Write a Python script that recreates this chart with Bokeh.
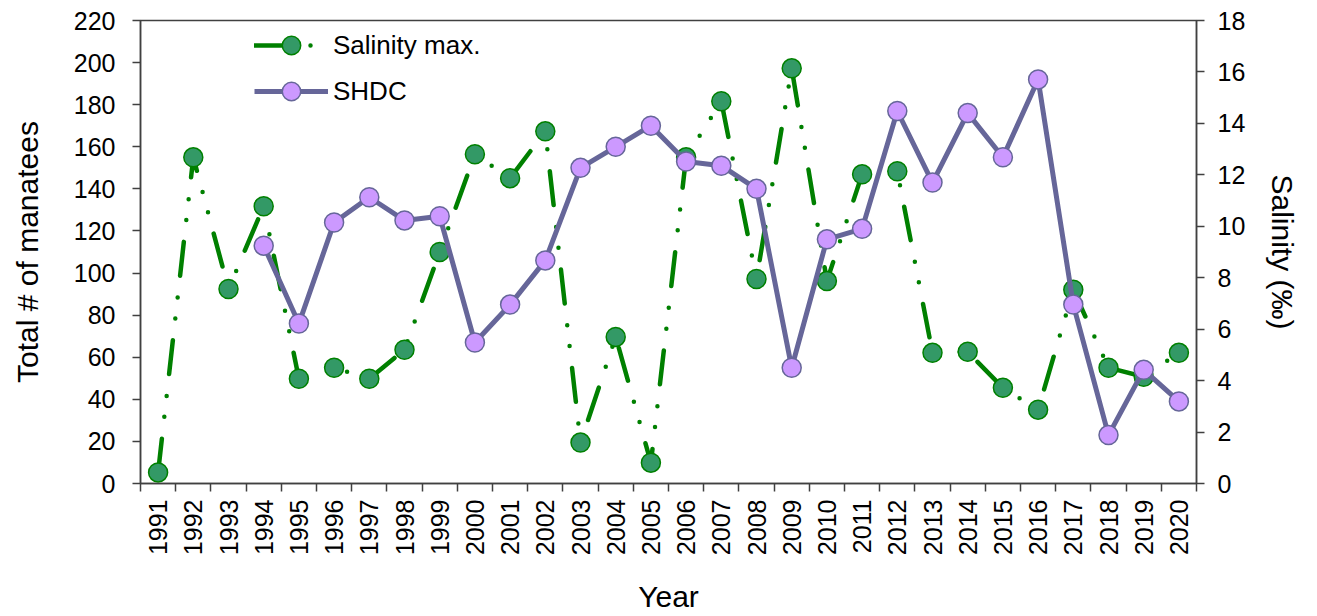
import math
from bokeh.plotting import figure
from bokeh.models import (Range1d, LinearAxis, FixedTicker, Legend, LegendItem)
from bokeh.embed import file_html
from bokeh.resources import INLINE

# ---- data ----
years = list(range(1991, 2021))
salinity_max = [0.43, 12.68, 7.56, 10.78, 4.07, 4.5, 4.07, 5.2, 9.0, 12.8,
                11.87, 13.69, 1.59, 5.7, 0.81, 12.68, 14.86, 7.95, 16.14, 7.87,
                12.02, 12.14, 5.08, 5.12, 3.72, 2.87, 7.53, 4.5, 4.15, 5.08]
shdc_years = list(range(1994, 2021))
shdc = [113, 76, 124, 136, 125, 127, 67, 85, 106, 150,
        160, 170, 153, 151, 140, 55, 116, 121, 177, 143,
        176, 155, 192, 85, 23, 54, 39]
left_ticks = list(range(0, 221, 20))
right_ticks = list(range(0, 19, 2))

FONT = "Liberation Sans"
AX = "#404040"

p = figure(width=1310, height=616, output_backend="svg", toolbar_location=None,
           x_range=Range1d(1990.5, 2020.5), y_range=Range1d(0, 220),
           min_border_left=140, min_border_right=114, min_border_top=20,
           min_border_bottom=132)
p.extra_y_ranges = {"sal": Range1d(0, 18)}
p.xgrid.visible = False
p.ygrid.visible = False
p.outline_line_color = AX
p.outline_line_width = 1.5
p.background_fill_color = "white"
p.border_fill_color = "white"

# x axis
xa = p.xaxis[0]
xa.ticker = FixedTicker(ticks=years, minor_ticks=[y - 0.5 for y in years] + [2020.5])
xa.major_tick_line_color = None
xa.major_tick_out = 8
xa.major_tick_in = 0
xa.minor_tick_in = 0
xa.minor_tick_out = 8
xa.minor_tick_line_color = AX
xa.minor_tick_line_width = 1.5
xa.major_label_orientation = math.pi / 2
xa.major_label_standoff = 8
xa.axis_label = "Year"
xa.axis_label_standoff = 22

# left axis
ya = p.yaxis[0]
ya.ticker = FixedTicker(ticks=left_ticks)
ya.axis_label = "Total # of manatees"
ya.major_label_standoff = 17
ya.axis_label_standoff = 27

# right axis
ra = LinearAxis(y_range_name="sal", ticker=FixedTicker(ticks=right_ticks),
                axis_label="Salinity (‰)")
ra.major_label_standoff = 13
ra.axis_label_standoff = 18
p.add_layout(ra, "right")

for ax in [xa, ya, ra]:
    ax.axis_line_color = AX
    ax.axis_line_width = 1.5
    ax.major_label_text_font = FONT
    ax.major_label_text_font_size = "25px"
    ax.major_label_text_color = "black"
    ax.axis_label_text_font = FONT
    ax.axis_label_text_font_size = "30px"
    ax.axis_label_text_font_style = "normal"
    ax.axis_label_text_color = "black"
for ax in [ya, ra]:
    ax.major_tick_line_color = AX
    ax.major_tick_line_width = 1.5
    ax.major_tick_in = 0
    ax.major_tick_out = 8
    ax.minor_tick_line_color = None

# salinity (right axis)
sl = p.line(years, salinity_max, y_range_name="sal", line_color="#008000",
            line_width=4.5, line_dash="34 22 0 21 0 22", line_cap="round")
ss = p.scatter(years, salinity_max, y_range_name="sal", size=19,
               fill_color="#339966", line_color="#008000", line_width=1.5)

# SHDC (left axis)
hl = p.line(shdc_years, shdc, line_color="#666699", line_width=5)
hs = p.scatter(shdc_years, shdc, size=19, fill_color="#CC99FF",
               line_color="#666699", line_width=1.5)

legend = Legend(items=[LegendItem(label="Salinity max.", renderers=[sl, ss]),
                       LegendItem(label="SHDC", renderers=[hl, hs])],
                location=(114, 369), orientation="vertical")
legend.border_line_color = None
legend.background_fill_alpha = 0
legend.padding = 0
legend.margin = 0
legend.glyph_width = 74
legend.glyph_height = 46
legend.label_height = 46
legend.spacing = 0
legend.label_standoff = 5
legend.label_text_font = FONT
legend.label_text_font_size = "26px"
legend.label_text_color = "black"
p.add_layout(legend, "center")

open("out.html", "w").write(file_html(p, INLINE))
